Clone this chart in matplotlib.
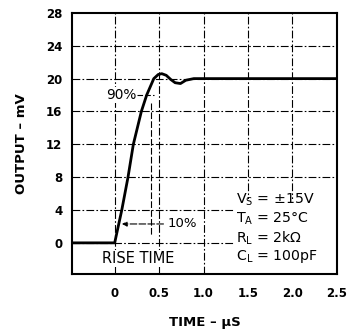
import numpy as np
import matplotlib
matplotlib.use('Agg')
import matplotlib.pyplot as plt

plt.rcParams['font.family'] = ['DejaVu Sans']
plt.rcParams['mathtext.default'] = 'regular'

# pulse response (time in us, output in mV)
time_us = [-0.48, 0.0, 0.08, 0.15, 0.21, 0.30, 0.36, 0.44, 0.49, 0.53, 0.58,
           0.63, 0.68, 0.74, 0.80, 0.89, 2.5]
output_mv = [0.0, 0.0, 4.0, 8.0, 12.0, 16.0, 18.0, 20.0, 20.5, 20.6, 20.4,
             19.9, 19.5, 19.4, 19.8, 20.0, 20.0]

x_ticks = [0, 0.5, 1.0, 1.5, 2.0, 2.5]
x_labels = ['0', '0.5', '1.0', '1.5', '2.0', '2.5']
y_ticks = [0, 4, 8, 12, 16, 20, 24, 28]
conditions = ['V$_S$ = ±15V', 'T$_A$ = 25°C', 'R$_L$ = 2kΩ', 'C$_L$ = 100pF']

fig = plt.figure(figsize=(3.47, 3.31), dpi=100)
ax = fig.add_axes([0.2075, 0.172, 0.7635, 0.789])

grid_style = dict(color='black', lw=0.8, linestyle=(0, (7, 2, 1.5, 2)), zorder=1)
for yv in y_ticks[:-1]:
    ax.axhline(yv, **grid_style)
for xv in x_ticks[:-1]:
    ax.axvline(xv, **grid_style)

ax.plot(time_us, output_mv, color='black', lw=2.0, zorder=3,
        solid_joinstyle='round', solid_capstyle='round')

# rise time markers
ax.plot([0.41, 0.41], [17.0, 0.8], color='black', lw=0.8,
        linestyle=(0, (6, 2)), zorder=2)
ax.plot([0.25, 0.44], [18.0, 18.0], color='black', lw=0.8,
        linestyle=(0, (5, 2)), zorder=2)
ax.text(0.07, 18.0, '90%', ha='center', va='center', fontsize=9.8,
        bbox=dict(facecolor='white', edgecolor='none', pad=0.5), zorder=4)
ax.annotate('', xy=(0.05, 2.3), xytext=(0.58, 2.3),
            arrowprops=dict(arrowstyle='-|>', color='black', lw=0.8,
                            mutation_scale=7, linestyle=(0, (6, 2))), zorder=4)
ax.text(0.6, 2.3, '10%', ha='left', va='center', fontsize=9.5,
        bbox=dict(facecolor='white', edgecolor='none', pad=0.5), zorder=4)

ax.text(0.26, -1.9, 'RISE TIME', ha='center', va='center', fontsize=10.5,
        bbox=dict(facecolor='white', edgecolor='none', pad=1.0), zorder=4)

# test conditions box
ax.add_patch(plt.Rectangle((1.35, -3.8), 1.15, 9.2, facecolor='white',
                           edgecolor='none', zorder=2))
for i, line in enumerate(conditions):
    ax.text(1.37, 5.2 - i * 2.3, line, ha='left', va='center', fontsize=10.2,
            zorder=4)

ax.set_xlim(-0.48, 2.5)
ax.set_ylim(-3.8, 28)
ax.set_xticks(x_ticks)
ax.set_xticklabels(x_labels)
ax.set_yticks(y_ticks)
ax.tick_params(length=0, labelsize=8.5)
ax.tick_params(axis='x', pad=9)
ax.tick_params(axis='y', pad=7)
for t in ax.get_xticklabels() + ax.get_yticklabels():
    t.set_fontweight('bold')
for s in ax.spines.values():
    s.set_linewidth(1.5)
    s.set_zorder(5)

ax.set_xlabel('TIME – µS', fontsize=9.5, fontweight='bold', labelpad=12)
ax.set_ylabel('OUTPUT – mV', fontsize=9.5, fontweight='bold', labelpad=13)

fig.savefig('out.png', dpi=100)
